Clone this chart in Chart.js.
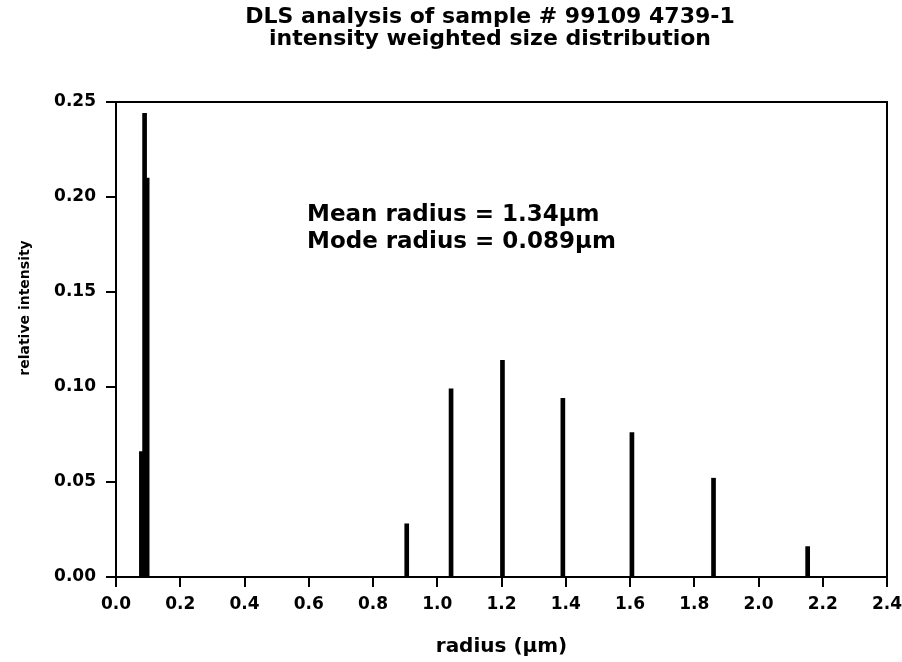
<!DOCTYPE html>
<html>
<head>
<meta charset="utf-8">
<script src="https://cdn.jsdelivr.net/npm/chart.js@4.4.1/dist/chart.umd.min.js"></script>
<style>
  html, body { margin: 0; padding: 0; background: #fff; }
  #wrap { width: 902px; height: 662px; }
</style>
</head>
<body>
<div id="wrap"><canvas id="c" width="902" height="662"></canvas></div>
<script>
// DLS peaks: radius (µm) and relative intensity
const radius    = [0.079, 0.089, 0.097, 0.905, 1.043, 1.203, 1.391, 1.606, 1.860, 2.153];
const intensity = [0.066, 0.244, 0.210, 0.028, 0.099, 0.114, 0.094, 0.076, 0.052, 0.016];

const xTickLabels = ['0.0','0.2','0.4','0.6','0.8','1.0','1.2','1.4','1.6','1.8','2.0','2.2','2.4'];
const yTickLabels = ['0.00','0.05','0.10','0.15','0.20','0.25'];

const titleLines = ['DLS analysis of sample # 99109 4739-1', 'intensity weighted size distribution'];
const noteLines  = ['Mean radius = 1.34\u00b5m', 'Mode radius = 0.089\u00b5m'];
const yTitle = 'relative intensity';
const xTitle = 'radius (\u00b5m)';

const FONT = '"DejaVu Sans", "Liberation Sans", sans-serif';

// titles, frame and the text box inside the plot
const decor = {
  id: 'decor',
  afterDraw(chart) {
    const { ctx, chartArea: a } = chart;
    ctx.save();
    ctx.strokeStyle = '#000';
    ctx.lineWidth = 2;
    ctx.strokeRect(a.left, a.top, a.right - a.left, a.bottom - a.top);

    ctx.fillStyle = '#000';
    ctx.textAlign = 'center';
    ctx.textBaseline = 'middle';
    ctx.font = 'bold 22px ' + FONT;
    ctx.fillText(titleLines[0], 490, 17);
    ctx.fillText(titleLines[1], 490, 39);

    ctx.textAlign = 'left';
    ctx.font = 'bold 23px ' + FONT;
    ctx.fillText(noteLines[0], 307, 215);
    ctx.fillText(noteLines[1], 307, 242);

    ctx.translate(25, 308);
    ctx.rotate(-Math.PI / 2);
    ctx.textAlign = 'center';
    ctx.font = 'bold 14px ' + FONT;
    ctx.fillText(yTitle, 0, 0);
    ctx.restore();
  }
};

new Chart(document.getElementById('c'), {
  type: 'bar',
  data: {
    datasets: [{
      data: radius.map((r, i) => ({ x: r, y: intensity[i] })),
      backgroundColor: '#000',
      borderWidth: 0,
      barThickness: 4
    }]
  },
  options: {
    responsive: false,
    animation: false,
    layout: { padding: { left: 0, right: 15, top: 102, bottom: 0 } },
    plugins: { legend: { display: false }, tooltip: { enabled: false } },
    scales: {
      x: {
        type: 'linear',
        min: 0, max: 2.4,
        offset: false,
        afterFit(s) { s.height = 85; s.paddingLeft = 0; s.paddingRight = 0; },
        afterBuildTicks(s) { s.ticks = xTickLabels.map(t => ({ value: parseFloat(t) })); },
        ticks: {
          color: '#000',
          padding: 7,
          maxRotation: 0,
          autoSkip: false,
          font: { family: FONT, size: 17, weight: 'bold' },
          callback: (v, i) => xTickLabels[i]
        },
        grid: { display: true, offset: false, drawOnChartArea: false, drawTicks: true, tickLength: 10, color: '#000', lineWidth: 2 },
        border: { display: true, color: '#000', width: 2 },
        title: {
          display: true, text: xTitle, color: '#000',
          font: { family: FONT, size: 20, weight: 'bold' },
          padding: { top: 0, bottom: 3 }
        }
      },
      y: {
        min: 0, max: 0.25,
        afterFit(s) { s.width = 116; },
        afterBuildTicks(s) { s.ticks = yTickLabels.map(t => ({ value: parseFloat(t) })); },
        ticks: {
          color: '#000',
          padding: 10,
          font: { family: FONT, size: 17, weight: 'bold' },
          callback: (v, i) => yTickLabels[i]
        },
        grid: { display: true, drawOnChartArea: false, drawTicks: true, tickLength: 10, color: '#000', lineWidth: 2 },
        border: { display: true, color: '#000', width: 2 }
      }
    }
  },
  plugins: [decor]
});
</script>
</body>
</html>
